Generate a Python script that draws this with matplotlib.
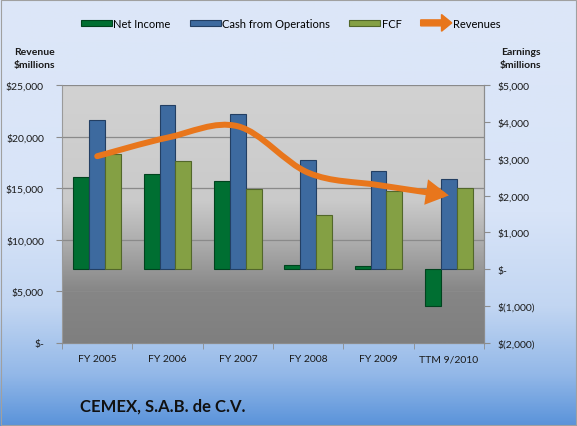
import matplotlib
matplotlib.use("Agg")
import matplotlib.pyplot as plt
import matplotlib.patches as mpatches
import matplotlib.transforms as mtransforms
from matplotlib.path import Path
from matplotlib.colors import LinearSegmentedColormap
from matplotlib.legend_handler import HandlerPatch
import numpy as np

plt.rcParams["font.family"] = ["Lato", "DejaVu Sans"]

# Data ($ millions)
categories = ["FY 2005", "FY 2006", "FY 2007", "FY 2008", "FY 2009", "TTM 9/2010"]
net_income = [2500, 2590, 2390, 120, 80, -1000]
cash_from_ops = [4050, 4450, 4200, 2960, 2660, 2460]
fcf = [3120, 2950, 2170, 1470, 2120, 2200]
revenues = [18100, 19900, 21000, 16500, 15300, 14300]

rev_ticks = [0, 5000, 10000, 15000, 20000, 25000]
earn_ticks = [-2000, -1000, 0, 1000, 2000, 3000, 4000, 5000]

c_ni, c_ni_edge = "#006F32", "#00431E"
c_cfo, c_cfo_edge = "#3D6A9F", "#233F63"
c_fcf, c_fcf_edge = "#84A044", "#52672A"
c_rev = "#E8761C"
c_axis = "#8C8C8C"


def money(v):
    if v == 0:
        return "$-"
    if v < 0:
        return f"$({abs(v):,.0f})"
    return f"${v:,.0f}"


fig = plt.figure(figsize=(5.77, 4.27), dpi=100)

# figure background gradient (light blue -> blue at bottom)
bg = fig.add_axes([0, 0, 1, 1], zorder=-10)
bg_cmap = LinearSegmentedColormap.from_list(
    "bg",
    [(0.0, "#DDE7F8"), (0.5, "#D8E4F8"), (0.72, "#C2D6F2"),
     (0.88, "#93B8E8"), (1.0, "#5A93DA")],
)
bg.imshow(np.linspace(0, 1, 256).reshape(-1, 1), cmap=bg_cmap, aspect="auto",
          extent=[0, 1, 0, 1], transform=bg.transAxes)
bg.add_patch(mpatches.Rectangle((0.001, 0.002), 0.997, 0.996, transform=bg.transAxes,
                                fill=False, edgecolor="#A0A0A0", linewidth=0.8))
bg.set_axis_off()

# bars axis (earnings, right side) and revenue axis on top (left side)
ax = fig.add_axes([0.1075, 0.1944, 0.7314, 0.6042])
ax2 = ax.twinx()

pa_cmap = LinearSegmentedColormap.from_list(
    "pa",
    [(0.0, "#D2D2D2"), (0.45, "#CACACA"), (0.62, "#ABABAB"),
     (0.8, "#868686"), (1.0, "#7F7F7F")],
)
ax.imshow(np.linspace(0, 1, 256).reshape(-1, 1), cmap=pa_cmap, aspect="auto",
          extent=[0, 1, 0, 1], transform=ax.transAxes, zorder=0)

# gridlines follow the revenue axis but sit behind the bars
grid_tr = mtransforms.blended_transform_factory(ax.transAxes, ax2.transData)
ax.hlines(rev_ticks[1:], 0, 1, transform=grid_tr, colors="#8A8A8A",
          linewidth=0.9, zorder=1)

x = np.arange(len(categories))
w = 0.225
ax.bar(x - w, net_income, w, color=c_ni, edgecolor=c_ni_edge, linewidth=0.8, zorder=3)
ax.bar(x, cash_from_ops, w, color=c_cfo, edgecolor=c_cfo_edge, linewidth=0.8, zorder=3)
ax.bar(x + w, fcf, w, color=c_fcf, edgecolor=c_fcf_edge, linewidth=0.8, zorder=3)

ax.set_xlim(-0.5, len(categories) - 0.5)
ax.set_ylim(earn_ticks[0], earn_ticks[-1])
ax.set_yticks(earn_ticks)
ax.set_yticklabels([money(v) for v in earn_ticks])
ax.yaxis.tick_right()
ax.tick_params(axis="y", which="both", direction="out", length=4, pad=6,
               color=c_axis, labelsize=7.5, labelcolor="#1A1A1A")
ax.set_xticks(x)
ax.set_xticklabels(categories)
ax.set_xticks(np.arange(-0.5, len(categories), 1.0), minor=True)
ax.tick_params(axis="x", which="major", length=0, pad=8, labelsize=7.5,
               labelcolor="#1A1A1A")
ax.tick_params(axis="x", which="minor", length=4, direction="out", color=c_axis)

# smoothed revenue line (Catmull-Rom through the data points) ending in an arrow
pts = np.column_stack([x, revenues]).astype(float)
ext = np.vstack([pts[0], pts, pts[-1]])
verts = [tuple(pts[0])]
codes = [Path.MOVETO]
for i in range(len(pts) - 1):
    p0, p1, p2, p3 = ext[i], ext[i + 1], ext[i + 2], ext[i + 3]
    verts += [tuple(p1 + (p2 - p0) / 6), tuple(p2 - (p3 - p1) / 6), tuple(p2)]
    codes += [Path.CURVE4] * 3
rev_arrow = mpatches.FancyArrowPatch(
    path=Path(verts, codes), arrowstyle="-|>,head_length=0.5,head_width=0.28",
    mutation_scale=20, linewidth=4.3, color=c_rev, capstyle="round",
    joinstyle="miter", transform=ax2.transData, zorder=5)
ax2.add_patch(rev_arrow)

ax2.set_ylim(rev_ticks[0], rev_ticks[-1])
ax2.set_yticks(rev_ticks)
ax2.set_yticklabels([money(v) for v in rev_ticks])
ax2.yaxis.tick_left()
ax2.tick_params(axis="y", direction="out", length=4, pad=9, color=c_axis,
                labelsize=7.5, labelcolor="#1A1A1A")

for a in (ax, ax2):
    for side in ("left", "right", "bottom"):
        a.spines[side].set_color(c_axis)
        a.spines[side].set_linewidth(0.8)
    a.spines["top"].set_visible(False)
ax2.spines["left"].set_visible(False)
ax.spines["left"].set_color("#9A9A9A")

fig.text(0.060, 0.862, "Revenue\n$millions", ha="center", va="center",
         fontsize=7.5, fontweight="bold", linespacing=1.45, color="#1A1A1A")
fig.text(0.902, 0.862, "Earnings\n$millions", ha="center", va="center",
         fontsize=7.5, fontweight="bold", linespacing=1.45, color="#1A1A1A")
fig.text(0.139, 0.047, "CEMEX, S.A.B. de C.V.", ha="left", va="center",
         fontsize=12, fontweight="bold", color="#111111")


def arrow_handle(legend, orig_handle, xdescent, ydescent, width, height, fontsize):
    return mpatches.FancyArrow(-xdescent, height / 2 - ydescent, width, 0,
                               width=height * 1.0, head_width=height * 2.8,
                               head_length=width * 0.33, length_includes_head=True,
                               color=c_rev, linewidth=0)


rev_handle = mpatches.Patch(color=c_rev)
handles = [
    mpatches.Patch(facecolor=c_ni, edgecolor=c_ni_edge, linewidth=0.8),
    mpatches.Patch(facecolor=c_cfo, edgecolor=c_cfo_edge, linewidth=0.8),
    mpatches.Patch(facecolor=c_fcf, edgecolor=c_fcf_edge, linewidth=0.8),
    rev_handle,
]
fig.legend(handles, ["Net Income", "Cash from Operations", "FCF", "Revenues"],
           loc="center", bbox_to_anchor=(0.504, 0.943), ncol=4, frameon=False,
           fontsize=8, handlelength=2.8, handleheight=0.45, handletextpad=0.15,
           columnspacing=1.7,
           handler_map={rev_handle: HandlerPatch(patch_func=arrow_handle)})

fig.savefig("out.png", dpi=100)
